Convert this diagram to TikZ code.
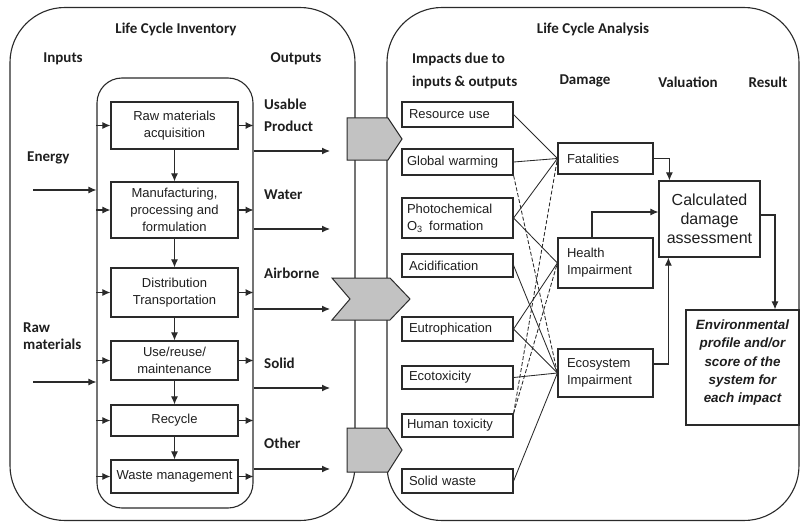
\documentclass[tikz,border=0pt]{standalone}
\usepackage{fontspec}
\setmainfont{Liberation Sans}
\newfontfamily\hdfont{Carlito}
\usetikzlibrary{arrows.meta,calc}
\definecolor{lcol}{HTML}{2A2A2A}
\definecolor{tcol}{HTML}{1E1E1E}
\definecolor{gfill}{HTML}{C2C2C2}
\begin{document}
\begin{tikzpicture}[x=1pt,y=-1pt,
  lc/.style={draw=lcol, line width=1.1pt},
  pbox/.style={draw=lcol, line width=1.2pt, rectangle, inner sep=1pt, align=center,
    font=\fontsize{13}{17}\selectfont, text=tcol},
  ibox/.style={pbox, align=left, inner xsep=7pt, text width=97pt, minimum width=111pt},
  dbox/.style={pbox, align=left, inner xsep=9pt, text width=77pt, minimum width=95pt},
  prbox/.style={pbox, minimum width=127pt},
  bigbox/.style={draw=lcol, line width=1.1pt, rounded corners=55pt},
  hd/.style={font=\hdfont\bfseries\fontsize{15}{22}\selectfont, text=tcol, inner sep=0pt},
  arr/.style={draw=lcol, line width=1.1pt, -{Latex[length=8pt,width=7pt]}},
  conn/.style={draw=lcol, line width=0.85pt},
  dconn/.style={conn, dash pattern=on 4pt off 2pt},
  chev/.style={draw=lcol, line width=1pt, fill=gfill},
]
\useasboundingbox (0,0) rectangle (800,524);

% big frames
\node[bigbox, minimum width=345pt, minimum height=513pt] (lci) at (182.5,264) {};
\node[bigbox, minimum width=412pt, minimum height=513pt] (lca) at (593,264) {};
\node[draw=lcol, line width=1.1pt, rounded corners=25pt, minimum width=156pt, minimum height=430pt] (inner) at (175,293) {};

% gray connecting arrows
\draw[chev] (347,118) -- (388,118) -- (402,139) -- (388,160) -- (347,160) -- cycle;
\draw[chev] (332,278) -- (390,278) -- (410,299) -- (390,320) -- (332,320) -- (350,299) -- cycle;
\draw[chev] (347,428) -- (388,428) -- (402,450) -- (388,472) -- (347,472) -- cycle;

% headers left
\node[hd] (tlci) at (176,29) {Life Cycle Inventory};
\node[hd] (tin) at (63,59) {Inputs};
\node[hd] (tout) at (296,59) {Outputs};
\node[hd, anchor=west] (ten) at (27,158) {Energy};
\node[hd, anchor=west, align=left, font=\hdfont\bfseries\fontsize{15}{17}\selectfont] (trm) at (23,336) {Raw\\materials};
\node[hd, anchor=west, align=left, font=\hdfont\bfseries\fontsize{15}{22}\selectfont] (tup) at (264,115) {Usable\\Product};
\node[hd, anchor=west] (twa) at (264,195) {Water};
\node[hd, anchor=west] (tai) at (264,273) {Airborne};
\node[hd, anchor=west] (tso) at (264,363) {Solid};
\node[hd, anchor=west] (tot) at (264,443) {Other};

% process boxes
\node[prbox, minimum height=47pt] (raw) at (174.5,125.5) {Raw materials\\acquisition};
\node[prbox, minimum height=56pt] (manu) at (174.5,210) {Manufacturing,\\processing and\\formulation};
\node[prbox, minimum height=49pt] (dist) at (174.5,292.5) {Distribution\\Transportation};
\node[prbox, minimum height=39pt] (use) at (174.5,360.5) {Use/reuse/\\maintenance};
\node[prbox, minimum height=31pt] (recy) at (174.5,420.5) {Recycle};
\node[prbox, minimum height=33pt] (waste) at (174.5,476.5) {Waste management};

\foreach \a/\b in {raw/manu, manu/dist, dist/use, use/recy, recy/waste}
  \draw[arr] (\a.south) -- (\b.north);
\foreach \a in {raw, manu, dist, use, recy, waste} {
  \draw[arr] (inner.west |- \a.west) -- (\a.west);
  \draw[arr] (\a.east) -- (inner.east |- \a.east);
}

% inputs
\coordinate (ein) at (33,190);
\coordinate (rin) at (33,382);
\draw[arr] (ein) -- (ein -| inner.west);
\draw[arr] (rin) -- (rin -| inner.west);

% outputs
\coordinate (o1) at (330,151);
\coordinate (o2) at (330,229);
\coordinate (o3) at (330,309);
\coordinate (o4) at (330,388);
\coordinate (o5) at (330,469);
\foreach \o in {o1,o2,o3,o4,o5}
  \draw[arr] (inner.east |- \o) -- (\o);

% headers right
\node[hd] (tlca) at (593,29) {Life Cycle Analysis};
\node[hd, anchor=west, align=left, font=\hdfont\bfseries\fontsize{15}{23}\selectfont] (timp) at (412,70.5) {Impacts due to\\inputs \& outputs};
\node[hd] (tdam) at (585,81) {Damage};
\node[hd] (tval) at (688,82) {Valuation};
\node[hd] (tres) at (768,82) {Result};

% impact boxes
\node[ibox, minimum height=25pt] (res) at (457.5,114.5) {Resource use};
\node[ibox, minimum height=26pt, inner xsep=5pt, text width=101pt] (gw) at (457.5,162) {Global warming};
\node[ibox, minimum height=40pt, inner xsep=5pt, text width=101pt] (photo) at (457.5,218) {Photochemical\\O\textsubscript{3} \,formation};
\node[ibox, minimum height=23pt] (acid) at (457.5,265.5) {Acidification};
\node[ibox, minimum height=24pt] (eutro) at (457.5,329) {Eutrophication};
\node[ibox, minimum height=23pt] (ecot) at (457.5,377.5) {Ecotoxicity};
\node[ibox, minimum height=23pt, inner xsep=5pt, text width=101pt] (ht) at (457.5,425.5) {Human toxicity};
\node[ibox, minimum height=24pt] (sw) at (457.5,481) {Solid waste};

% damage boxes
\node[dbox, minimum height=31pt] (fat) at (605.5,158.5) {Fatalities};
\node[dbox, minimum height=50pt] (health) at (605.5,263) {Health\\Impairment};
\node[dbox, minimum height=48pt] (eco) at (605.5,373) {Ecosystem\\Impairment};

% impact -> damage
\draw[conn] (res.east) -- (fat.west);
\draw[conn] (gw.east) -- (fat.west);
\draw[conn] (photo.east) -- (fat.west);
\draw[conn] (photo.east) -- (health.west);
\draw[conn] (acid.east) -- (eco.west);
\draw[conn] (eutro.east) -- (health.west);
\draw[conn] (eutro.east) -- (eco.west);
\draw[conn] (ecot.east) -- (eco.west);
\draw[conn] (sw.east) -- (eco.west);
\draw[dconn] (gw.south east) -- (eco.west);
\draw[dconn] (ht.north east) -- (fat.west);
\draw[dconn] (ht.north east) -- (health.west);

% valuation and result
\node[pbox, minimum width=101pt, minimum height=76pt, font=\fontsize{16}{19}\selectfont] (calc) at (709.5,219) {Calculated\\damage\\assessment};
\node[pbox, inner sep=0pt, minimum width=113pt, minimum height=115pt,
  font=\bfseries\itshape\fontsize{13.4}{18.2}\selectfont] (env) at (742.5,367.5)
  {\parbox[c][115pt][t]{110pt}{\centering\vspace*{10pt}Environmental\\profile and/or\\score of the\\system for\\each impact}};

\draw[arr] (fat.east) -| ($(calc.north west)+(11,0)$);
\draw[arr] ($(health.north)+(-13.5,0)$) |- ($(calc.west)+(0,-7)$);
\draw[arr] ($(eco.east)+(0,-9)$) -| ($(calc.south west)+(10,0)$);
\draw[arr] ($(calc.east)+(0,-4)$) -| ($(env.north)+(32.5,0)$);
\end{tikzpicture}
\end{document}
